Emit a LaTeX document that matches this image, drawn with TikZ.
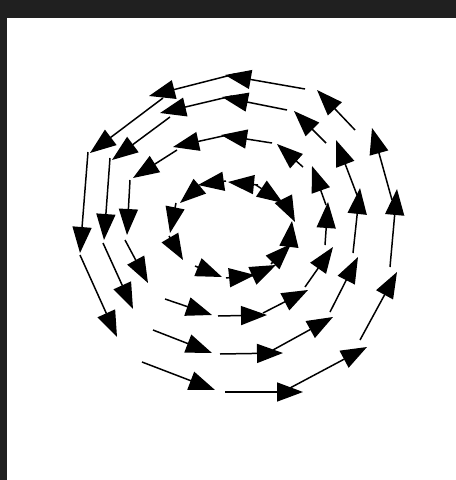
\documentclass[tikz,border=0pt]{standalone}
\usetikzlibrary{arrows.meta}
\definecolor{framegray}{RGB}{32,32,32}

\begin{document}
\begin{tikzpicture}[x=0.02cm,y=-0.02cm,
  vec/.style={draw=black,line width=0.85pt,-{Triangle[length=5.2mm,width=3.8mm]}}
]
  % frame
  \fill[framegray] (0,0) rectangle (456,480);
  \fill[white] (7,18) rectangle (456,480);

  % Ring 1 (inner)
  \draw[vec] (195,266) -- (222,277);
  \draw[vec] (226,278) -- (255,275);
  \draw[vec] (252,276) -- (276,265);
  \draw[vec] (271,264) -- (291,244);
  \draw[vec] (289,246) -- (292,221);
  \draw[vec] (284,200) -- (295,222);
  \draw[vec] (256,185) -- (283,203);
  \draw[vec] (258,185) -- (228,182);
  \draw[vec] (226,181) -- (198,185);
  \draw[vec] (200,186) -- (180,203);
  \draw[vec] (176,203) -- (170,233);
  \draw[vec] (169,236) -- (183,260);

  % Ring 2
  \draw[vec] (165,299) -- (212,315);
  \draw[vec] (218,316) -- (267,315);
  \draw[vec] (263,313) -- (308,290);
  \draw[vec] (305,287) -- (333,247);
  \draw[vec] (325,245) -- (328,202);
  \draw[vec] (326,205) -- (312,166);
  \draw[vec] (303,167) -- (277,144);
  \draw[vec] (272,143) -- (221,135);
  \draw[vec] (232,134) -- (173,147);
  \draw[vec] (177,150) -- (133,178);
  \draw[vec] (130,180) -- (127,235);
  \draw[vec] (125,240) -- (148,283);

  % Ring 3
  \draw[vec] (153,330) -- (212,353);
  \draw[vec] (220,354) -- (283,353);
  \draw[vec] (273,350) -- (333,317);
  \draw[vec] (330,312) -- (358,257);
  \draw[vec] (353,253) -- (360,188);
  \draw[vec] (357,195) -- (336,140);
  \draw[vec] (326,143) -- (294,111);
  \draw[vec] (287,110) -- (222,97);
  \draw[vec] (232,96) -- (160,113);
  \draw[vec] (170,117) -- (112,160);
  \draw[vec] (110,158) -- (104,240);
  \draw[vec] (103,243) -- (133,309);

  % Ring 4 (outer)
  \draw[vec] (142,362) -- (215,390);
  \draw[vec] (225,392) -- (303,392);
  \draw[vec] (290,388) -- (367,347);
  \draw[vec] (360,340) -- (397,272);
  \draw[vec] (390,267) -- (397,189);
  \draw[vec] (392,200) -- (372,128);
  \draw[vec] (355,130) -- (317,90);
  \draw[vec] (305,89) -- (225,75);
  \draw[vec] (235,74) -- (149,96);
  \draw[vec] (163,98) -- (90,153);
  \draw[vec] (88,152) -- (80,253);
  \draw[vec] (80,255) -- (117,337);
\end{tikzpicture}
\end{document}
